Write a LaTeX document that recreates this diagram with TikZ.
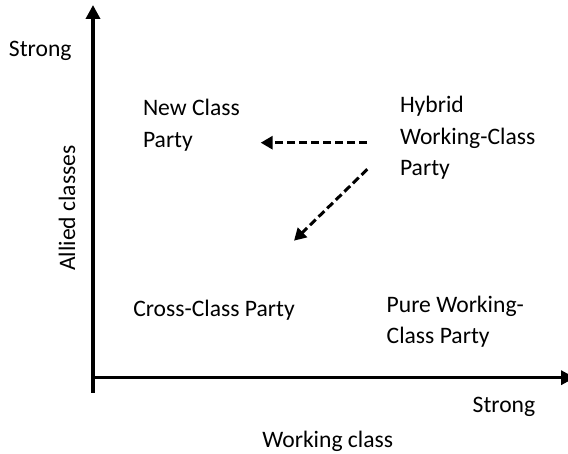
\documentclass[tikz,border=0pt]{standalone}
\usepackage{fontspec}
\setmainfont{Carlito}
\usetikzlibrary{arrows.meta}
\begin{document}
\begin{tikzpicture}[x=1pt,y=-1pt,
  lbl/.style={inner sep=0pt,outer sep=0pt,anchor=base west,align=left,
    font=\fontsize{23.6}{31.6}\selectfont},
  axis/.style={line width=3.4pt,-{Triangle[length=14pt,width=14pt]}},
  moveline/.style={line width=3pt,dash pattern=on 8pt off 4pt,
    -{Triangle[length=12pt,width=13pt]}}]
  \useasboundingbox (0,0) rectangle (568,454);
  \clip (0,0) rectangle (568,454);
  \fill[white] (0,0) rectangle (568,454);

  % axes
  \coordinate (o) at (93,377.7);
  \coordinate (ybot) at (93,393);
  \coordinate (ytop) at (93,5);
  \coordinate (xend) at (575,377.7);
  \draw[axis] (ybot) -- (ytop);
  \draw[axis] (o) -- (xend);

  % axis labels (base anchor sits on the last line)
  \node[lbl] (ystrong) at (9,57) {Strong};
  \node[lbl,anchor=center,rotate=90] (ylab) at (67,208) {Allied classes};
  \node[lbl] (xstrong) at (472.7,412.7) {Strong};
  \node[lbl] (xlab) at (262.3,447.3) {Working class};

  % party types
  \node[lbl] (newclass) at (143,147.3) {New Class\\Party};
  \node[lbl] (hybrid) at (400,175.7) {Hybrid\\Working-Class\\Party};
  \node[lbl] (cross) at (133.3,316.7) {Cross-Class Party};
  \node[lbl] (pure) at (386.7,344) {Pure Working-\\Class Party};

  % moves away from the hybrid type
  \coordinate (h1) at (367,142.7);
  \coordinate (n1) at (260.7,142.7);
  \coordinate (h2) at (367.3,169.3);
  \coordinate (c1) at (294,240.7);
  \draw[moveline] (h1) -- (n1);
  \draw[moveline] (h2) -- (c1);
\end{tikzpicture}
\end{document}
